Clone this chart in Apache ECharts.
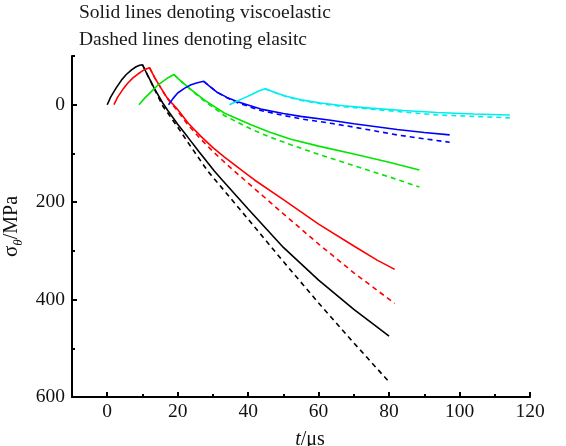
<!DOCTYPE html>
<html>
<head>
<meta charset="utf-8">
<script src="https://cdn.jsdelivr.net/npm/echarts@6/dist/echarts.min.js"></script>
<style>html,body{margin:0;padding:0;background:#fff;}#c{width:566px;height:446px;}</style>
</head>
<body>
<div id="c"></div>
<script>
const xMajorTicks = [0, 20, 40, 60, 80, 100, 120];
const xMinorTicks = [10, 30, 50, 70, 90, 110];
const yMajorTicks = [0, 200, 400, 600];
const yMinorTicks = [-100, 100, 300, 500];

const blackSolid = [[0,0],[1,-16],[2.5,-34],[4,-50],[5.4,-62],[7,-72],[8.2,-78],[9.2,-81],[10,-82],[11.5,-60],[13.4,-33],[15.8,-3],[17.2,12],[20,40],[22.8,66],[26,96],[30.4,136],[32.7,155],[40,214],[50,293],[60,360],[70,420],[80,475]];
const blackDashed = [[10,-82],[11.5,-60],[13.4,-32],[15.8,3],[20,46],[24,89],[28.5,136],[32,166],[40,235],[50,322],[60,407],[70,489],[80,569]];
const redSolid = [[1.9,0],[3,-16],[4.4,-31],[5.8,-44],[7.3,-55],[8.7,-63],[10.1,-70],[11.2,-74],[12,-76],[13.5,-55],[15,-37],[17,-14],[20,10],[23,38],[26.6,65],[30,88],[33.2,107],[38.4,136],[41.7,154],[50,195],[60,245],[70,290],[76.6,319],[81.6,338]];
const redDashed = [[12,-76],[13.5,-55],[15,-37],[17,-13],[20,13],[23,42],[26.6,71],[30,96],[34,123],[38.9,154],[50,224],[60,286],[70,345],[81.6,408]];
const greenSolid = [[9,0],[10.7,-14],[12.5,-27],[14.2,-39],[15.8,-48],[17.4,-56],[18.9,-62],[21,-48],[23.8,-31],[27.5,-10],[33.2,17],[40.8,41],[46,56],[52.1,71],[60,85],[70,101],[80,118],[88.6,134]];
const greenDashed = [[18.9,-62],[21,-48],[23.8,-30],[27.5,-8],[33.2,22],[40.8,50],[46,66],[52.1,82],[60,102],[70,125],[80,148],[88.6,169]];
const blueSolid = [[17.4,0],[18.7,-13],[20,-24],[22,-34],[23.8,-41],[25.6,-45],[27.4,-48],[29,-38],[31.3,-25],[34,-15],[37,-6],[43.6,9],[50,18],[54.9,24],[63.4,32],[70,39],[82.3,51],[90,57],[97.2,62]];
const blueDashed = [[27.4,-48],[29,-38],[31.3,-25],[34,-14],[37,-4],[43.6,12],[50,22],[54.9,29],[63.4,38],[70,46],[82.3,62],[90,70],[97.2,77]];
const cyanSolid = [[34.7,0],[36.8,-7],[38.9,-14],[41,-21],[43,-28],[44.8,-33],[48,-24],[51.1,-17],[55,-10],[60.6,-3.5],[67,2],[74.7,7],[84,12],[93.6,16],[104,19],[114.3,21]];
const cyanDashed = [[44.8,-33],[48,-24],[51.1,-16],[55,-9],[60.6,-2],[67,4],[74.7,9],[84,15],[93.6,21],[104,24],[114.3,27]];

const FONT = 'Liberation Serif';
function mk(data, color, dashed) {
  return {
    type: 'line', data: data, xAxisIndex: 0, yAxisIndex: 0,
    showSymbol: false, symbol: 'none', smooth: false, silent: true,
    lineStyle: { color: color, width: 1.6, type: dashed ? [5, 4] : 'solid' }
  };
}
const chart = echarts.init(document.getElementById('c'), null, { renderer: 'canvas' });
chart.setOption({
  animation: false,
  backgroundColor: '#fff',
  graphic: [
    { type: 'text', left: 79, top: 3, style: { text: 'Solid lines denoting viscoelastic', font: '19.5px "Liberation Serif"', fill: '#1a1a1a' } },
    { type: 'text', left: 79, top: 30, style: { text: 'Dashed lines denoting elasitc', font: '19.5px "Liberation Serif"', fill: '#1a1a1a' } }
  ],
  grid: { left: 72, right: 36, top: 56, bottom: 49, containLabel: false, outerBoundsMode: 'none' },
  xAxis: [
    {
      type: 'value', min: -10, max: 120, interval: 10,
      name: '{i|t}{n|/μs}', nameLocation: 'middle', nameGap: 33,
      nameTextStyle: { padding: [0, 0, 0, 18], rich: {
        i: { fontFamily: FONT, fontSize: 20, fontStyle: 'italic', color: '#111' },
        n: { fontFamily: FONT, fontSize: 20, color: '#111' } } },
      axisLine: { show: true, onZero: false, lineStyle: { color: '#000', width: 2 } },
      axisTick: { show: true, inside: true, length: 5, customValues: xMajorTicks, lineStyle: { color: '#000', width: 2 } },
      axisLabel: { show: true, customValues: xMajorTicks, margin: 5, fontFamily: FONT, fontSize: 19.5, color: '#111' },
      splitLine: { show: false }
    },
    {
      type: 'value', min: -10, max: 120, interval: 10, position: 'bottom',
      axisLine: { show: false, onZero: false },
      axisTick: { show: true, inside: true, length: 3, customValues: xMinorTicks, lineStyle: { color: '#000', width: 2 } },
      axisLabel: { show: false }, splitLine: { show: false }
    }
  ],
  yAxis: [
    {
      type: 'value', min: -100, max: 600, interval: 100, inverse: true,
      name: '{s|σ}{sub|θ}{n|/MPa}', nameLocation: 'middle', nameGap: 46, nameRotate: 90,
      nameTextStyle: { rich: {
        s: { fontFamily: FONT, fontSize: 21, color: '#111', lineHeight: 26 },
        sub: { fontFamily: FONT, fontSize: 13, fontStyle: 'italic', color: '#111', lineHeight: 13, verticalAlign: 'bottom' },
        n: { fontFamily: FONT, fontSize: 20, color: '#111', lineHeight: 26 } } },
      axisLine: { show: true, onZero: false, lineStyle: { color: '#000', width: 2 } },
      axisTick: { show: true, inside: true, length: 5, customValues: yMajorTicks, lineStyle: { color: '#000', width: 2 } },
      axisLabel: { show: true, customValues: yMajorTicks, margin: 7, fontFamily: FONT, fontSize: 19.5, color: '#111' },
      splitLine: { show: false }
    },
    {
      type: 'value', min: -100, max: 600, interval: 100, inverse: true, position: 'left',
      axisLine: { show: false, onZero: false },
      axisTick: { show: true, inside: true, length: 3, customValues: yMinorTicks, lineStyle: { color: '#000', width: 2 } },
      axisLabel: { show: false }, splitLine: { show: false }
    }
  ],
  series: [
    mk(blackDashed, '#000000', true),
    mk(redDashed, '#ff0000', true),
    mk(greenDashed, '#00e600', true),
    mk(blueDashed, '#0000ff', true),
    mk(cyanDashed, '#00eeee', true),
    mk(blackSolid, '#000000', false),
    mk(redSolid, '#ff0000', false),
    mk(greenSolid, '#00e600', false),
    mk(blueSolid, '#0000ff', false),
    mk(cyanSolid, '#00eeee', false)
  ]
});
</script>
</body>
</html>
